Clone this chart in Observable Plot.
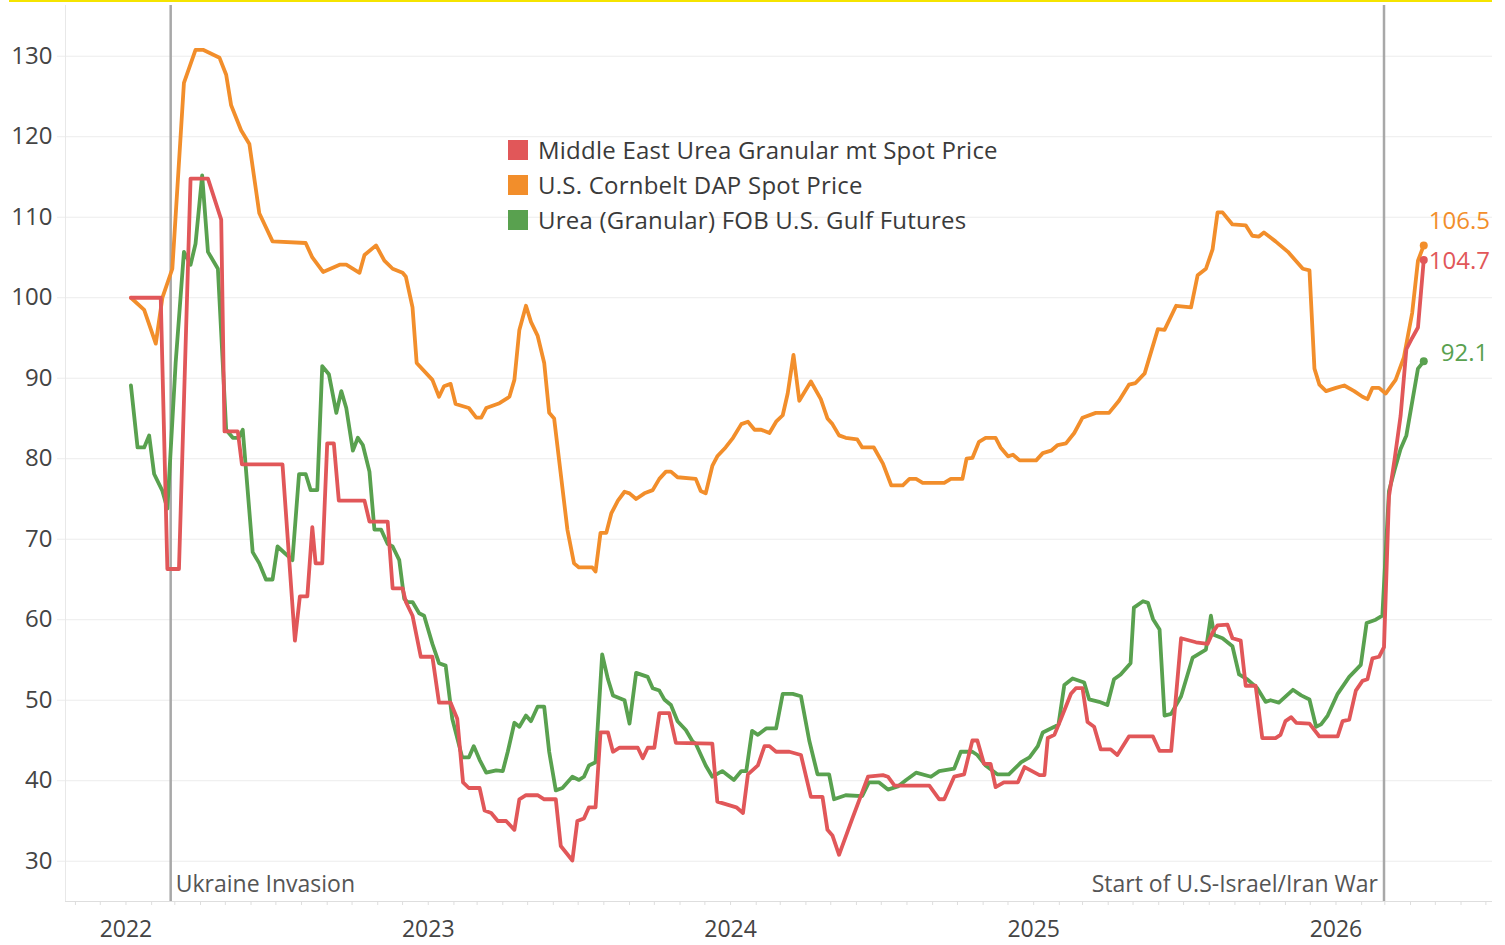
<!DOCTYPE html>
<html><head><meta charset="utf-8">
<script src="https://cdn.jsdelivr.net/npm/d3@7"></script>
<script src="https://cdn.jsdelivr.net/npm/@observablehq/plot@0.6"></script>
<style>
body{margin:0;background:#fff;}
#wrap{position:relative;width:1505px;height:945px;overflow:hidden;font-family:"Open Sans",sans-serif;}
#topline{position:absolute;left:9px;top:0;width:1483px;height:2px;background:#f5e400;}
#legend{position:absolute;left:508px;top:132px;}
.item{display:flex;align-items:center;height:35px;font-size:24px;letter-spacing:0.23px;color:#3a3a3a;white-space:nowrap;}
.sw{width:20px;height:20px;margin-right:10px;flex:none;}
</style></head><body>
<div id="wrap"><div id="chart"></div><div id="topline"></div><div id="legend"></div></div>
<script>
const seriesNames = ["Middle East Urea Granular mt Spot Price", "U.S. Cornbelt DAP Spot Price", "Urea (Granular) FOB U.S. Gulf Futures"];
const seriesColors = ["#e15759", "#f28e2b", "#59a14f"];
const yTicks = [30, 40, 50, 60, 70, 80, 90, 100, 110, 120, 130];
const yearTicks = ["2022-01-01", "2023-01-01", "2024-01-01", "2025-01-01", "2026-01-01"];
const eventDates = ["2022-02-24", "2026-02-28"];
const eventLabels = ["Ukraine Invasion", "Start of U.S-Israel/Iran War"];

const dapDates = ["2022-01-07","2022-01-23","2022-02-06","2022-02-14","2022-02-26","2022-03-12","2022-03-26","2022-04-04","2022-04-24","2022-05-02","2022-05-08","2022-05-20","2022-05-30","2022-06-11","2022-06-27","2022-08-06","2022-08-14","2022-08-27","2022-09-16","2022-09-24","2022-10-10","2022-10-16","2022-10-30","2022-11-09","2022-11-19","2022-12-01","2022-12-05","2022-12-13","2022-12-18","2023-01-06","2023-01-14","2023-01-20","2023-01-28","2023-02-03","2023-02-19","2023-02-28","2023-03-06","2023-03-12","2023-03-28","2023-04-09","2023-04-15","2023-04-21","2023-04-29","2023-05-05","2023-05-13","2023-05-21","2023-05-27","2023-06-02","2023-06-10","2023-06-18","2023-06-26","2023-07-02","2023-07-18","2023-07-22","2023-07-28","2023-08-04","2023-08-10","2023-08-18","2023-08-26","2023-09-01","2023-09-09","2023-09-19","2023-09-29","2023-10-07","2023-10-15","2023-10-21","2023-10-29","2023-11-20","2023-11-26","2023-12-02","2023-12-10","2023-12-16","2023-12-26","2024-01-04","2024-01-14","2024-01-22","2024-01-30","2024-02-07","2024-02-17","2024-02-25","2024-03-04","2024-03-10","2024-03-17","2024-03-24","2024-04-07","2024-04-19","2024-04-27","2024-05-03","2024-05-11","2024-05-19","2024-06-02","2024-06-08","2024-06-22","2024-07-03","2024-07-13","2024-07-27","2024-08-04","2024-08-12","2024-08-20","2024-09-15","2024-09-23","2024-10-07","2024-10-12","2024-10-19","2024-10-27","2024-11-04","2024-11-16","2024-11-22","2024-12-01","2024-12-07","2024-12-15","2025-01-04","2025-01-12","2025-01-22","2025-01-30","2025-02-09","2025-02-19","2025-03-01","2025-03-17","2025-04-02","2025-04-14","2025-04-26","2025-05-04","2025-05-15","2025-05-31","2025-06-08","2025-06-22","2025-07-10","2025-07-18","2025-07-28","2025-08-05","2025-08-11","2025-08-17","2025-08-29","2025-09-14","2025-09-22","2025-09-30","2025-10-06","2025-10-20","2025-11-04","2025-11-22","2025-11-30","2025-12-06","2025-12-12","2025-12-20","2026-01-01","2026-01-11","2026-01-23","2026-02-02","2026-02-08","2026-02-14","2026-02-22","2026-03-02","2026-03-14","2026-03-24","2026-04-03","2026-04-10","2026-04-17"];
const dapValues = [100,98.5,94.3,100,103.6,126.7,130.8,130.8,129.8,127.7,123.9,120.8,119.1,110.5,107,106.8,105,103.2,104.1,104.1,103.1,105.3,106.5,104.6,103.6,103.1,102.6,98.8,91.9,89.8,87.7,89,89.3,86.8,86.3,85.1,85.1,86.3,86.9,87.7,89.8,96,99,97,95.3,91.9,85.7,85,78.1,71.2,67,66.5,66.5,66,70.8,70.8,73.2,74.8,75.9,75.7,75,75.7,76.1,77.5,78.4,78.4,77.7,77.5,76,75.7,79.1,80.3,81.4,82.6,84.3,84.6,83.6,83.6,83.2,84.6,85.4,88.1,92.9,87.2,89.6,87.4,85,84.3,82.9,82.6,82.4,81.4,81.4,79.4,76.7,76.7,77.5,77.5,77,77,77.5,77.5,80,80.1,82.1,82.6,82.6,81.4,80.3,80.5,79.8,79.8,80.7,81,81.7,81.9,83.2,85.1,85.7,85.7,87.2,89.2,89.4,90.6,96.1,96,99,98.8,102.8,103.6,106,110.6,110.6,109.1,109,107.7,107.6,108.1,107,105.7,103.6,103.4,91.2,89.2,88.4,88.8,89.1,88.4,87.7,87.4,88.8,88.8,88.1,89.8,92.6,98.1,104.6,106.5];

const meDates = ["2022-01-07","2022-02-12","2022-02-20","2022-03-06","2022-03-20","2022-04-10","2022-04-26","2022-04-30","2022-05-16","2022-05-21","2022-07-09","2022-07-24","2022-07-30","2022-08-08","2022-08-14","2022-08-18","2022-08-26","2022-09-01","2022-09-09","2022-09-15","2022-10-16","2022-10-22","2022-11-13","2022-11-19","2022-12-01","2022-12-05","2022-12-13","2022-12-23","2023-01-06","2023-01-14","2023-01-28","2023-02-05","2023-02-12","2023-02-19","2023-03-04","2023-03-10","2023-03-18","2023-03-26","2023-04-05","2023-04-15","2023-04-21","2023-04-29","2023-05-13","2023-05-21","2023-06-04","2023-06-10","2023-06-24","2023-06-30","2023-07-08","2023-07-14","2023-07-22","2023-07-28","2023-08-06","2023-08-12","2023-08-20","2023-09-11","2023-09-17","2023-09-23","2023-10-01","2023-10-07","2023-10-19","2023-10-27","2023-12-10","2023-12-16","2023-12-29","2024-01-08","2024-01-16","2024-01-22","2024-02-03","2024-02-11","2024-02-17","2024-02-25","2024-03-12","2024-03-26","2024-04-07","2024-04-21","2024-04-27","2024-05-03","2024-05-11","2024-05-27","2024-06-15","2024-07-03","2024-07-09","2024-07-17","2024-08-28","2024-09-09","2024-09-15","2024-09-27","2024-10-09","2024-10-19","2024-10-25","2024-11-02","2024-11-10","2024-11-16","2024-11-26","2024-12-13","2024-12-21","2025-01-08","2025-01-14","2025-01-18","2025-01-26","2025-02-03","2025-02-15","2025-02-21","2025-03-01","2025-03-07","2025-03-15","2025-03-23","2025-04-04","2025-04-12","2025-04-26","2025-05-25","2025-06-02","2025-06-16","2025-06-28","2025-07-16","2025-07-30","2025-08-05","2025-08-11","2025-08-23","2025-08-29","2025-09-08","2025-09-14","2025-09-26","2025-10-04","2025-10-20","2025-10-26","2025-11-01","2025-11-08","2025-11-14","2025-11-30","2025-12-12","2026-01-03","2026-01-09","2026-01-17","2026-01-25","2026-02-02","2026-02-08","2026-02-14","2026-02-22","2026-02-28","2026-03-06","2026-03-13","2026-03-20","2026-03-27","2026-04-03","2026-04-10","2026-04-17"];
const meValues = [100,100,66.3,66.3,114.8,114.8,109.7,83.4,83.4,79.3,79.3,57.4,62.9,62.9,71.5,67,67,81.9,81.9,74.8,74.8,72.2,72.2,63.9,63.9,62.2,60.5,55.4,55.4,49.7,49.7,47.7,39.8,39.1,39.1,36.3,36,35,35,33.9,37.7,38.2,38.2,37.7,37.7,31.9,30.1,35,35.3,36.7,36.7,46,46,43.6,44.1,44.1,42.8,44.1,44.1,48.4,48.4,44.7,44.6,37.4,37,36.7,36,40.8,41.9,44.3,44.3,43.6,43.6,43.2,38,38,33.9,33.2,30.8,35.3,40.5,40.7,40.5,39.4,39.4,37.7,37.7,40.5,40.8,45,45,42.1,42.1,39.2,39.8,39.8,41.7,40.7,40.7,45.3,45.7,47.7,50.8,51.5,51.5,47.3,46.7,43.9,43.9,43.2,45.5,45.5,43.7,43.7,57.7,57.2,57,58.4,59.3,59.4,57.7,57.4,51.8,51.8,45.3,45.3,45.7,47.4,47.9,47.2,47.1,45.5,45.5,47.4,47.6,51.2,52.4,52.6,55.2,55.4,56.6,75.3,80.1,85.3,93.6,95,96.3,104.7];

const gulfDates = ["2022-01-07","2022-01-15","2022-01-23","2022-01-29","2022-02-04","2022-02-14","2022-02-20","2022-03-02","2022-03-12","2022-03-20","2022-03-26","2022-04-03","2022-04-10","2022-04-22","2022-05-02","2022-05-10","2022-05-17","2022-05-22","2022-06-03","2022-06-11","2022-06-19","2022-06-27","2022-07-03","2022-07-21","2022-07-29","2022-08-06","2022-08-12","2022-08-20","2022-08-26","2022-09-03","2022-09-12","2022-09-18","2022-09-24","2022-10-02","2022-10-08","2022-10-14","2022-10-22","2022-10-28","2022-11-05","2022-11-13","2022-11-19","2022-11-27","2022-12-03","2022-12-07","2022-12-13","2022-12-21","2022-12-27","2023-01-06","2023-01-14","2023-01-22","2023-01-30","2023-02-11","2023-02-19","2023-02-25","2023-03-04","2023-03-12","2023-03-24","2023-04-01","2023-04-07","2023-04-15","2023-04-21","2023-04-29","2023-05-05","2023-05-13","2023-05-21","2023-05-27","2023-06-04","2023-06-12","2023-06-24","2023-07-02","2023-07-08","2023-07-14","2023-07-22","2023-07-30","2023-08-06","2023-08-12","2023-08-26","2023-09-01","2023-09-09","2023-09-23","2023-09-29","2023-10-07","2023-10-13","2023-10-21","2023-10-29","2023-11-08","2023-11-16","2023-11-20","2023-12-02","2023-12-10","2023-12-22","2024-01-05","2024-01-14","2024-01-20","2024-01-27","2024-02-03","2024-02-13","2024-02-25","2024-03-04","2024-03-16","2024-03-26","2024-04-05","2024-04-15","2024-04-29","2024-05-05","2024-05-19","2024-06-08","2024-06-16","2024-06-28","2024-07-09","2024-07-21","2024-07-31","2024-08-12","2024-08-30","2024-09-09","2024-09-27","2024-10-05","2024-10-19","2024-10-25","2024-11-04","2024-11-18","2024-12-02","2024-12-17","2024-12-27","2025-01-06","2025-01-12","2025-01-26","2025-01-31","2025-02-07","2025-02-17","2025-03-03","2025-03-09","2025-03-21","2025-03-31","2025-04-08","2025-04-16","2025-04-28","2025-05-02","2025-05-13","2025-05-19","2025-05-25","2025-06-02","2025-06-08","2025-06-16","2025-06-28","2025-07-12","2025-07-28","2025-08-03","2025-08-07","2025-08-17","2025-08-29","2025-09-06","2025-09-16","2025-09-28","2025-10-08","2025-10-14","2025-10-24","2025-11-10","2025-11-20","2025-11-30","2025-12-08","2025-12-14","2025-12-22","2026-01-03","2026-01-17","2026-01-31","2026-02-07","2026-02-18","2026-02-26","2026-03-06","2026-03-13","2026-03-20","2026-03-27","2026-04-10","2026-04-17"];
const gulfValues = [89.1,81.4,81.4,82.9,78.1,76,73.8,91.9,105.7,104.1,106.7,115.2,105.7,103.6,83.6,82.6,82.6,83.6,68.4,67,65,65,69.1,67.4,78.1,78.1,76.1,76.1,91.5,90.5,85.7,88.4,86.3,81,82.6,81.7,78.4,71.2,71.2,69.4,69.1,67.4,62.6,62.2,62.2,60.8,60.5,57,54.6,54.3,47.7,42.9,42.9,44.3,42.6,41,41.3,41.2,43.6,47.2,46.7,48.1,47.4,49.2,49.2,43.6,38.8,39.1,40.5,40.1,40.5,41.9,42.3,55.7,52.6,50.6,50,47.1,53.4,52.9,51.5,51.2,50.1,49.4,47.4,46.3,44.9,44.6,41.9,40.5,41.2,40.1,41.2,41.2,46.2,45.7,46.5,46.5,50.8,50.8,50.5,45,40.8,40.8,37.7,38.2,38.1,39.8,39.8,38.9,39.3,40.1,41,40.5,41.2,41.5,43.6,43.6,43.2,41.9,40.8,40.8,42.3,42.9,44.3,46,46.7,47,51.9,52.7,52.2,50.1,49.8,49.4,52.6,53.2,54.6,61.5,62.3,62.1,60.1,58.8,48.1,48.3,50.5,55.3,56.3,60.5,58.1,57.7,56.7,53.2,52.6,51.5,49.8,50,49.7,51.3,50.6,50.1,46.7,47,48.1,50.8,52.9,54.4,59.6,60,60.5,76,78.7,81.2,82.9,91.2,92.1];

const parse = d3.utcParse("%Y-%m-%d");
const rows = (series, dates, values) => dates.map((d, i) => ({series, date: parse(d), value: values[i]}));
const meRows = rows(seriesNames[0], meDates, meValues);
const dapRows = rows(seriesNames[1], dapDates, dapValues);
const gulfRows = rows(seriesNames[2], gulfDates, gulfValues);
const data = [...gulfRows, ...dapRows, ...meRows];
const events = eventDates.map((d, i) => ({date: parse(d), label: eventLabels[i]}));
const xDomain = [parse("2021-10-20"), parse("2026-07-09")];
const monthTicks = d3.utcMonth.range(parse("2021-11-01"), xDomain[1]);

const lastOf = rs => rs[rs.length - 1];
const endLabel = (r, dx, dy) => Plot.text([r], {x: "date", y: "value", text: d => d.value.toFixed(1), fill: "series", textAnchor: "start", dx, dy, fontSize: 24});

const chart = Plot.plot({
  width: 1505, height: 945,
  marginLeft: 65, marginRight: 13, marginTop: 5, marginBottom: 44,
  style: {fontFamily: "Open Sans", fontSize: "24px", background: "transparent", overflow: "visible"},
  x: {type: "utc", domain: xDomain},
  y: {domain: [25, 136.3]},
  color: {domain: seriesNames, range: seriesColors},
  marks: [
    Plot.gridY(yTicks, {stroke: "#ececec", strokeOpacity: 1}),
    Plot.axisY(yTicks, {tickSize: 8, tickPadding: 5, stroke: "#ececec", fill: "#444", fontSize: 24, label: null}),
    Plot.ruleX([xDomain[0]], {stroke: "#e8e8e8"}),
    Plot.ruleY([25], {stroke: "#dedede"}),
    Plot.axisX(monthTicks, {tickSize: 4, stroke: "#dedede", text: null, label: null}),
    Plot.axisX(yearTicks.map(parse), {tickSize: 0, tickPadding: 19, tickFormat: "%Y", fill: "#444", fontSize: 23, label: null}),
    Plot.ruleX(events, {x: "date", stroke: "#a8a8a8", strokeWidth: 2.5}),
    Plot.text([events[0]], {x: "date", text: "label", frameAnchor: "bottom", lineAnchor: "middle", dy: -17, dx: 5, textAnchor: "start", fill: "#555", fontSize: 23}),
    Plot.text([events[1]], {x: "date", text: "label", frameAnchor: "bottom", lineAnchor: "middle", dy: -17, dx: -6, textAnchor: "end", fill: "#555", fontSize: 23}),
    Plot.line(data, {x: "date", y: "value", z: "series", stroke: "series", strokeWidth: 3.8}),
    Plot.dot([lastOf(gulfRows), lastOf(dapRows), lastOf(meRows)], {x: "date", y: "value", fill: "series", r: 4}),
    endLabel(lastOf(dapRows), 5, -24),
    endLabel(lastOf(meRows), 5, 1),
    endLabel(lastOf(gulfRows), 17, -8)
  ]
});
document.getElementById("chart").appendChild(chart);

const legend = document.getElementById("legend");
seriesNames.forEach((name, i) => {
  const item = document.createElement("div");
  item.className = "item";
  const sw = document.createElement("div");
  sw.className = "sw";
  sw.style.background = seriesColors[i];
  const label = document.createElement("span");
  label.textContent = name;
  item.append(sw, label);
  legend.appendChild(item);
});
</script></body></html>
